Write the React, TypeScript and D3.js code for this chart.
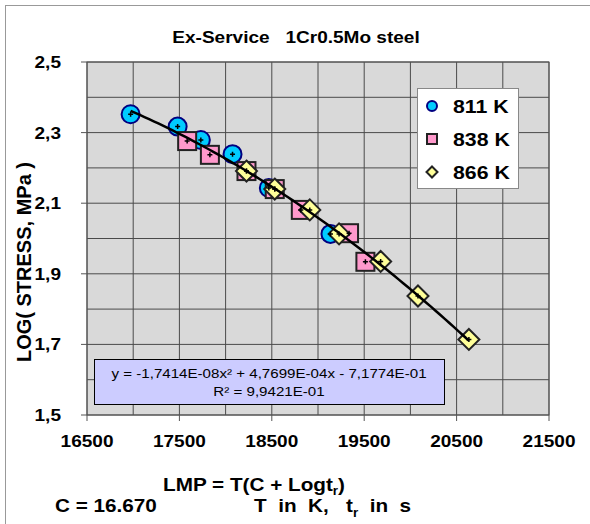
import React from "react";
import * as d3 from "d3";

// LMP values and log(stress)
const lmp811 = [16972, 17481, 17732, 18075, 18468, 19135];
const log811 = [2.352, 2.317, 2.279, 2.239, 2.143, 2.013];

const lmp838 = [17584, 17830, 18226, 18532, 18814, 19336, 19513];
const log838 = [2.276, 2.237, 2.191, 2.14, 2.081, 2.015, 1.934];

const lmp866 = [18226, 18532, 18911, 19228, 19678, 20082, 20633];
const log866 = [2.191, 2.14, 2.081, 2.013, 1.935, 1.837, 1.714];

// trendline y = a x^2 + b x + c
const fitCoef = [-1.7414e-8, 4.7699e-4, -7.1774e-1];

const xTicks = [16500, 17500, 18500, 19500, 20500, 21500];
const yTicks = [1.5, 1.7, 1.9, 2.1, 2.3, 2.5];
const xGrid = d3.range(16500, 21501, 500);
const yGrid = d3.range(1.5, 2.501, 0.1);

const legendLabels = ["811 K", "838 K", "866 K"];

const W = 590;
const H = 524;
const left = 87;
const right = 549;
const top = 62;
const bottom = 415;
const font = "Arial, 'Liberation Sans', sans-serif";
const SX = 1.12; // text in the original is a little wide

const fit = (x: number) => fitCoef[0] * x * x + fitCoef[1] * x + fitCoef[2];

// horizontally stretched text
const T = ({ x, y, size, anchor = "start", bold = true, children }: any) => (
  <g transform={`translate(${x},${y}) scale(${SX},1)`}>
    <text x={0} y={0} fontSize={size} fontWeight={bold ? "bold" : "normal"} textAnchor={anchor}>
      {children}
    </text>
  </g>
);

const App = () => {
  const x = d3.scaleLinear().domain([16500, 21500]).range([left, right]);
  const y = d3.scaleLinear().domain([1.5, 2.5]).range([bottom, top]);

  const allX = [...lmp811, ...lmp838, ...lmp866];
  const x0 = d3.min(allX)!;
  const x1 = d3.max(allX)!;
  // where the trendline crosses the bottom of the plot
  const disc = fitCoef[1] ** 2 - 4 * fitCoef[0] * (fitCoef[2] - 1.5);
  const xEnd = (-fitCoef[1] + Math.sqrt(disc)) / (2 * fitCoef[0]);

  const line = d3
    .line<number>()
    .x((d) => x(d))
    .y((d) => y(fit(d)));
  const thick = [...d3.range(x0, x1, 50), x1];
  const thin = [...d3.range(x0, xEnd, 50), xEnd];

  const plus = (cx: number, cy: number, k: string) => (
    <path
      key={k}
      d={`M${cx - 2.5},${cy}H${cx + 2.5}M${cx},${cy - 2.5}V${cy + 2.5}`}
      stroke="#000"
      strokeWidth={1.5}
    />
  );

  const circle = (cx: number, cy: number, r: number, sw: number, k: string) => (
    <circle key={k} cx={cx} cy={cy} r={r} fill="#00ccff" stroke="#000080" strokeWidth={sw} />
  );
  const square = (cx: number, cy: number, s: number, sw: number, k: string) => (
    <rect key={k} x={cx - s / 2} y={cy - s / 2} width={s} height={s} fill="#ff99cc" stroke="#222" strokeWidth={sw} />
  );
  const diamond = (cx: number, cy: number, s: number, sw: number, k: string) => (
    <path
      key={k}
      d={`M${cx},${cy - s}L${cx + s},${cy}L${cx},${cy + s}L${cx - s},${cy}Z`}
      fill="#ffff99"
      stroke="#222"
      strokeWidth={sw}
    />
  );

  return (
    <svg width={W} height={H} style={{ position: "absolute", left: 0, top: 0 }} fontFamily={font}>
      <rect x={0} y={0} width={W} height={H} fill="#fff" />
      <rect x={5.5} y={5.5} width={W + 10} height={H + 10} fill="none" stroke="#999" />

      <T x={296} y={43} size={17} anchor="middle">
        Ex-Service{"\u00a0\u00a0\u00a0"}1Cr0.5Mo steel
      </T>

      <rect x={left} y={top} width={right - left} height={bottom - top} fill="#d9d9d9" />
      {xGrid.map((g) => (
        <line key={"xg" + g} x1={x(g)} x2={x(g)} y1={top} y2={bottom} stroke="#4a4a4a" strokeWidth={1} />
      ))}
      {yGrid.map((g, i) => (
        <line key={"yg" + i} x1={left} x2={right} y1={y(g)} y2={y(g)} stroke="#4a4a4a" strokeWidth={1} />
      ))}
      <rect x={left} y={top} width={right - left} height={bottom - top} fill="none" stroke="#555" />

      {yTicks.map((t) => (
        <g key={"yt" + t}>
          <line x1={left - 6} x2={left} y1={y(t)} y2={y(t)} stroke="#555" />
          <T x={61} y={y(t) + 6} size={17} anchor="end">
            {t.toFixed(1).replace(".", ",")}
          </T>
        </g>
      ))}
      {xTicks.map((t) => (
        <g key={"xt" + t}>
          <line x1={x(t)} x2={x(t)} y1={bottom} y2={bottom + 6} stroke="#555" />
          <T x={x(t)} y={447} size={17} anchor="middle">
            {t}
          </T>
        </g>
      ))}

      <text
        transform={`translate(31,262) rotate(-90)`}
        textAnchor="middle"
        fontSize={20}
        fontWeight="bold"
      >
        LOG( STRESS, MPa )
      </text>

      {lmp811.map((v, i) => circle(x(v), y(log811[i]), 9, 2, "c" + i))}
      {lmp838.map((v, i) => square(x(v), y(log838[i]), 18, 2, "s" + i))}
      {lmp866.map((v, i) => diamond(x(v), y(log866[i]), 10.5, 2, "d" + i))}

      <path d={line(thin) ?? ""} fill="none" stroke="#000" strokeWidth={1} />
      <path d={line(thick) ?? ""} fill="none" stroke="#000" strokeWidth={2.5} />

      {lmp811.map((v, i) => plus(x(v), y(log811[i]), "p1" + i))}
      {lmp838.map((v, i) => plus(x(v), y(log838[i]), "p2" + i))}
      {lmp866.map((v, i) => plus(x(v), y(log866[i]), "p3" + i))}

      <rect x={417.5} y={88.5} width={101} height={100} fill="#fff" stroke="#888" />
      {legendLabels.map((l, i) => {
        const cy = 106 + i * 33;
        return (
          <g key={l}>
            {i === 0 && circle(432, cy, 5, 2, "lc")}
            {i === 1 && square(432, cy, 10, 2, "ls")}
            {i === 2 && diamond(432, cy, 5.5, 2, "ld")}
            <T x={453} y={cy + 7} size={19}>
              {l}
            </T>
          </g>
        );
      })}

      <rect x={94.5} y={359.5} width={350} height={45} fill="#ccccff" stroke="#000" />
      <T x={269} y={378} size={13.5} anchor="middle" bold={false}>
        y = -1,7414E-08x² + 4,7699E-04x - 7,1774E-01
      </T>
      <T x={269} y={396} size={13.5} anchor="middle" bold={false}>
        R² = 9,9421E-01
      </T>

      <T x={163} y={491} size={18.5}>
        LMP = T(C + Logt
        <tspan fontSize={12} dy={4}>
          r
        </tspan>
        <tspan dy={-4}>)</tspan>
      </T>
      <T x={55} y={512} size={18.5}>
        C = 16.670
      </T>
      <T x={254} y={512} size={18.5}>
        T{"\u00a0\u00a0"}in{"\u00a0\u00a0"}K,{"\u00a0\u00a0\u00a0"}t
        <tspan fontSize={12} dy={5}>
          r
        </tspan>
        <tspan dy={-5}>{"\u00a0\u00a0"}in{"\u00a0\u00a0"}s</tspan>
      </T>
    </svg>
  );
};

export default App;
